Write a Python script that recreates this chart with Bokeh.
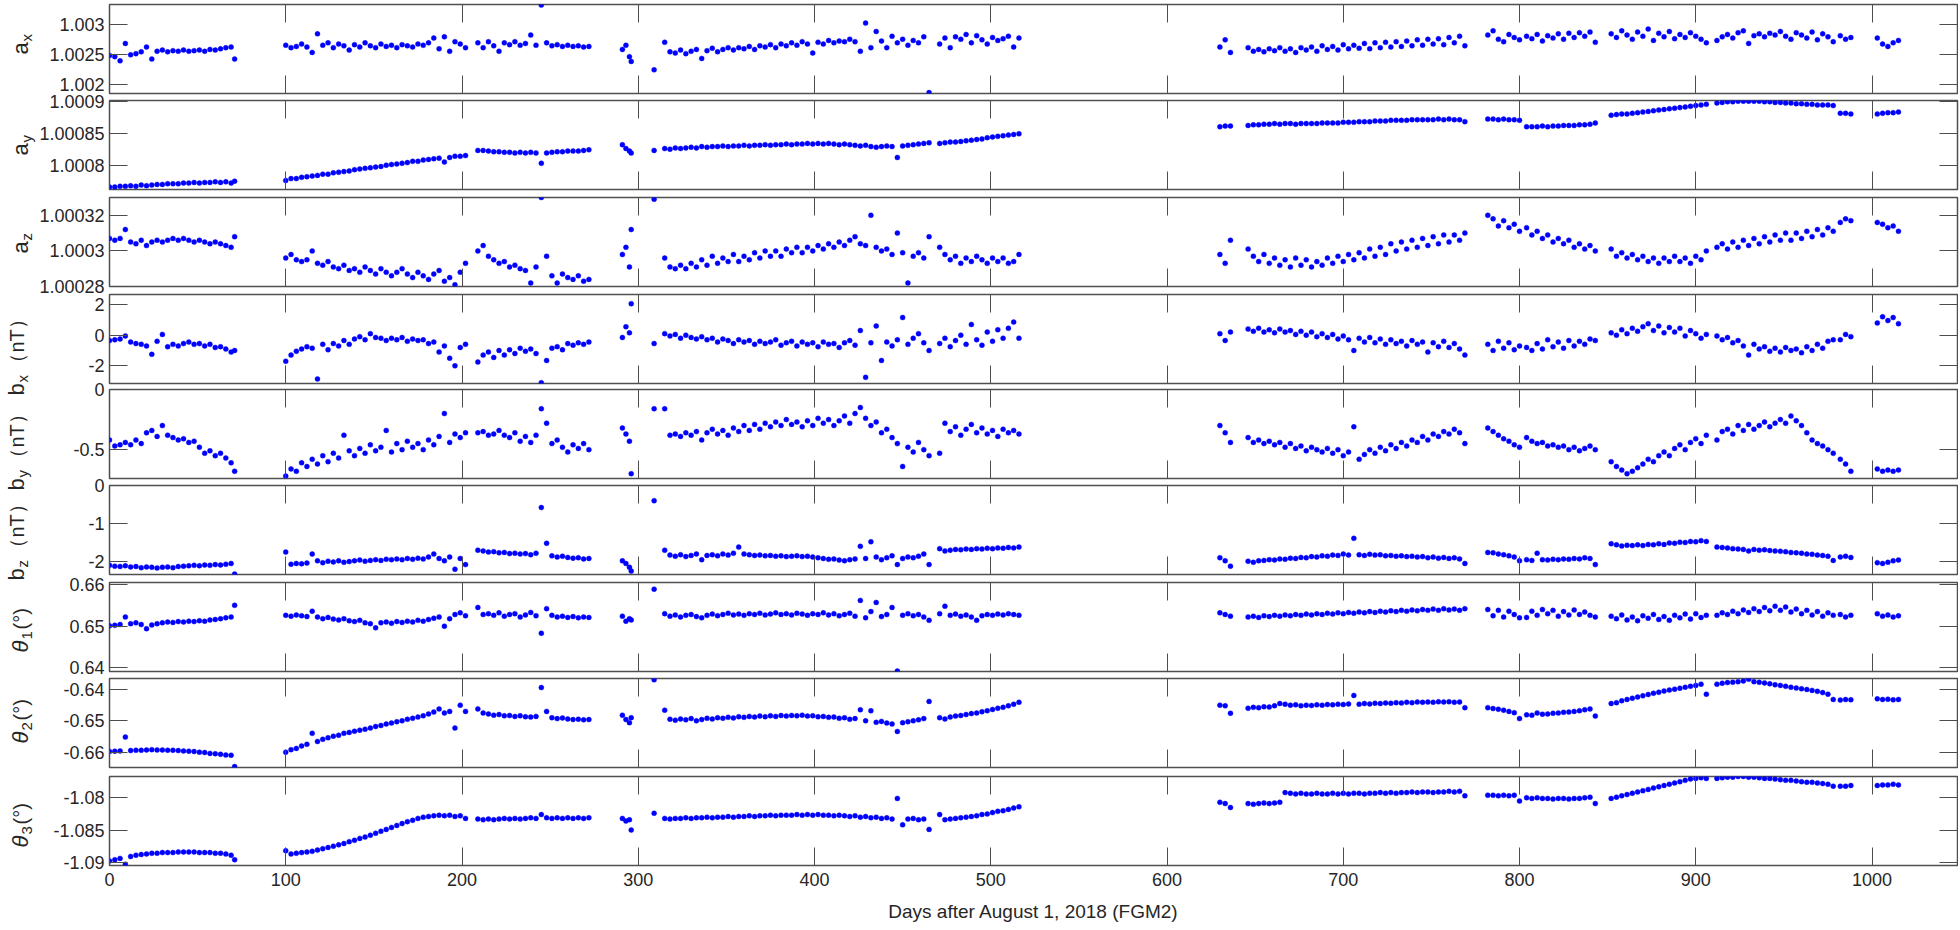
import math
from bokeh.plotting import figure
from bokeh.layouts import column, row
from bokeh.models import LinearAxis, Range1d, FixedTicker, CustomJSTickFormatter, ColumnDataSource
from bokeh.core.properties import value
from bokeh.embed import file_html
from bokeh.resources import INLINE

# ---------------- data ----------------
days = [
    0, 3, 6, 9, 12, 15, 18, 21, 24, 27, 30, 33, 36, 39, 42, 45, 48, 51, 54, 57, 60, 63, 66, 69, 71,
    100, 103, 106, 109, 112, 115, 118, 121, 124, 127, 130, 133, 136, 139, 142, 145, 148, 151, 154, 157,
    160, 163, 166, 169, 172, 175, 178, 181, 184, 187, 190, 193, 196, 199, 202,
    209, 212, 215, 218, 221, 224, 227, 230, 233, 236, 239, 242, 245, 248, 251, 254, 257, 260, 263, 266, 269, 272,
    291, 293, 295, 296,
    309,
    315, 318, 321, 324, 327, 330, 333, 336, 339, 342, 345, 348, 351, 354, 357, 360, 363, 366, 369, 372,
    375, 378, 381, 384, 387, 390, 393, 396, 399, 402, 405, 408, 411, 414, 417, 420, 423, 426, 429, 432,
    435, 438, 441, 444, 447, 450, 453, 456, 459, 462, 465,
    471, 474, 477, 480, 483, 486, 489, 492, 495, 498, 501, 504, 507, 510, 513, 516,
    630, 633, 636,
    646, 649, 652, 655, 658, 661, 664, 667, 670, 673, 676, 679, 682, 685, 688, 691, 694, 697, 700, 703,
    706, 709, 712, 715, 718, 721, 724, 727, 730, 733, 736, 739, 742, 745, 748, 751, 754, 757, 760, 763, 766, 769,
    782, 785, 788, 791, 794, 797, 800,
    804, 807, 810, 813, 816, 819, 822, 825, 828, 831, 834, 837, 840, 843,
    852, 855, 858, 861, 864, 867, 870, 873, 876, 879, 882, 885, 888, 891, 894, 897, 900, 903, 906,
    912, 915, 918, 921, 924, 927, 930, 933, 936, 939, 942, 945, 948, 951, 954, 957, 960, 963, 966, 969, 972, 975, 978,
    982, 985, 988,
    1003, 1006, 1009, 1012, 1015,
]

a_x = [
    1.00249, 1.00247, 1.00240, 1.00269, 1.00250, 1.00252, 1.00255, 1.00263, 1.00243, 1.00256, 1.00258, 1.00255, 1.00257,
    1.00256, 1.00258, 1.00256, 1.00257, 1.00258, 1.00256, 1.00259, 1.00258, 1.00260, 1.00262, 1.00263, 1.00243,
    1.00266, 1.00262, 1.00264, 1.00268, 1.00263, 1.00254, 1.00285, 1.00266, 1.00270, 1.00262, 1.00268, 1.00265,
    1.00258, 1.00267, 1.00263, 1.00270, 1.00265, 1.00262, 1.00268, 1.00264, 1.00266, 1.00262, 1.00267, 1.00265,
    1.00263, 1.00268, 1.00266, 1.00270, 1.00278, 1.00260, 1.00280, 1.00256, 1.00272, 1.00268, 1.00262,
    1.00270, 1.00262, 1.00272, 1.00265, 1.00256, 1.00270, 1.00267, 1.00272, 1.00266, 1.00269, 1.00283, 1.00266,
    1.00333, 1.00270, 1.00265, 1.00267, 1.00264, 1.00266, 1.00264, 1.00265, 1.00263, 1.00264,
    1.00259, 1.00266, 1.00247, 1.00239,
    1.00225,
    1.00271, 1.00255, 1.00253, 1.00258, 1.00252, 1.00256, 1.00259, 1.00244, 1.00257, 1.00261,
    1.00255, 1.00259, 1.00262, 1.00258, 1.00262, 1.00260, 1.00264, 1.00259, 1.00265, 1.00263,
    1.00267, 1.00262, 1.00268, 1.00265, 1.00270, 1.00266, 1.00272, 1.00268, 1.00253, 1.00271,
    1.00268, 1.00274, 1.00270, 1.00273, 1.00272, 1.00276, 1.00272, 1.00256, 1.00303, 1.00262,
    1.00289, 1.00273, 1.00262, 1.00281, 1.00270, 1.00276, 1.00266, 1.00274, 1.00270, 1.00280, 1.00187,
    1.00268, 1.00278, 1.00262, 1.00280, 1.00276, 1.00284, 1.00270, 1.00282, 1.00275, 1.00268, 1.00279, 1.00274,
    1.00277, 1.00281, 1.00263, 1.00278,
    1.00263, 1.00275, 1.00254,
    1.00262, 1.00256, 1.00259, 1.00255, 1.00260, 1.00257, 1.00262, 1.00256, 1.00260, 1.00254,
    1.00262, 1.00258, 1.00263, 1.00256, 1.00265, 1.00259, 1.00264, 1.00258, 1.00267, 1.00260,
    1.00266, 1.00261, 1.00269, 1.00260, 1.00270, 1.00262, 1.00271, 1.00263, 1.00272, 1.00264,
    1.00273, 1.00265, 1.00275, 1.00266, 1.00276, 1.00268, 1.00277, 1.00267, 1.00279, 1.00270, 1.00281, 1.00265,
    1.00283, 1.00290, 1.00276, 1.00272, 1.00284, 1.00279, 1.00275,
    1.00281, 1.00277, 1.00284, 1.00273, 1.00282, 1.00278, 1.00285, 1.00276, 1.00286, 1.00279, 1.00287, 1.00281,
    1.00288, 1.00271,
    1.00285, 1.00279, 1.00290, 1.00283, 1.00276, 1.00288, 1.00281, 1.00293, 1.00274, 1.00286, 1.00280, 1.00289,
    1.00277, 1.00284, 1.00279, 1.00287, 1.00281, 1.00276, 1.00270,
    1.00274, 1.00280, 1.00284, 1.00278, 1.00287, 1.00290, 1.00269, 1.00282, 1.00285, 1.00280, 1.00286, 1.00283,
    1.00289, 1.00281, 1.00276, 1.00287, 1.00283, 1.00278, 1.00288, 1.00275, 1.00285, 1.00280, 1.00272,
    1.00282, 1.00276, 1.00279,
    1.00278, 1.00268, 1.00264, 1.00270, 1.00274,
]

a_y = [
    1.000766, 1.000766, 1.000767, 1.000767, 1.000768, 1.000767, 1.000769, 1.000768, 1.000769, 1.000770, 1.000770,
    1.000771, 1.000771, 1.000771, 1.000772, 1.000772, 1.000773, 1.000772, 1.000773, 1.000773, 1.000774, 1.000773,
    1.000774, 1.000772, 1.000775,
    1.000776, 1.000779, 1.000779, 1.000781, 1.000782, 1.000783, 1.000784, 1.000786, 1.000786, 1.000788,
    1.000789, 1.000790, 1.000791, 1.000793, 1.000794, 1.000795, 1.000796, 1.000797, 1.000798, 1.000800,
    1.000801, 1.000802, 1.000803, 1.000804, 1.000806, 1.000806, 1.000808, 1.000809, 1.000810, 1.000811,
    1.000805, 1.000812, 1.000814, 1.000814, 1.000815,
    1.000823, 1.000823, 1.000822, 1.000821, 1.000821, 1.000820, 1.000820, 1.000819, 1.000820, 1.000819,
    1.000820, 1.000819, 1.000803, 1.000819, 1.000820, 1.000821, 1.000821, 1.000822, 1.000822, 1.000822,
    1.000823, 1.000824,
    1.000832, 1.000826, 1.000822, 1.000819,
    1.000823,
    1.000826, 1.000825, 1.000827, 1.000826, 1.000827, 1.000828, 1.000827, 1.000829, 1.000828, 1.000829,
    1.000829, 1.000830, 1.000829, 1.000830, 1.000830, 1.000831, 1.000830, 1.000831, 1.000831, 1.000832,
    1.000831, 1.000832, 1.000832, 1.000833, 1.000832, 1.000833, 1.000833, 1.000834, 1.000833, 1.000834,
    1.000833, 1.000834, 1.000833, 1.000832, 1.000833, 1.000832, 1.000831, 1.000830, 1.000831, 1.000829,
    1.000828, 1.000829, 1.000830, 1.000829, 1.000812, 1.000830, 1.000831, 1.000832, 1.000833, 1.000834, 1.000835,
    1.000834, 1.000835, 1.000836, 1.000836, 1.000837, 1.000838, 1.000839, 1.000840, 1.000841, 1.000843,
    1.000844, 1.000845, 1.000846, 1.000847, 1.000848, 1.000849,
    1.000860, 1.000861, 1.000861,
    1.000862, 1.000863, 1.000863, 1.000864, 1.000864, 1.000865, 1.000864, 1.000865, 1.000865, 1.000864,
    1.000865, 1.000865, 1.000865, 1.000865, 1.000866, 1.000866, 1.000866, 1.000866, 1.000867, 1.000867,
    1.000867, 1.000868, 1.000868, 1.000868, 1.000869, 1.000869, 1.000869, 1.000870, 1.000870, 1.000870,
    1.000870, 1.000871, 1.000871, 1.000871, 1.000871, 1.000871, 1.000872, 1.000871, 1.000872, 1.000871,
    1.000871, 1.000868,
    1.000872, 1.000872, 1.000871, 1.000872, 1.000871, 1.000871, 1.000870,
    1.000860, 1.000860, 1.000860, 1.000861, 1.000860, 1.000861, 1.000861, 1.000862, 1.000862, 1.000862,
    1.000863, 1.000863, 1.000864, 1.000866,
    1.000878, 1.000879, 1.000880, 1.000880, 1.000881, 1.000882, 1.000883, 1.000884, 1.000885, 1.000886,
    1.000887, 1.000888, 1.000889, 1.000890, 1.000891, 1.000892, 1.000893, 1.000894, 1.000895,
    1.000897, 1.000898, 1.000899, 1.000899, 1.000900, 1.000900, 1.000900, 1.000900, 1.000900, 1.000899,
    1.000899, 1.000898, 1.000898, 1.000897, 1.000897, 1.000896, 1.000896, 1.000895, 1.000895, 1.000894,
    1.000894, 1.000894, 1.000893,
    1.000881, 1.000881, 1.000880,
    1.000880, 1.000881, 1.000882, 1.000882, 1.000883,
]

a_z = [
    1.000307, 1.000306, 1.000307, 1.000312, 1.000305, 1.000304, 1.000306, 1.000303, 1.000305, 1.000306, 1.000305,
    1.000306, 1.000307, 1.000306, 1.000307, 1.000306, 1.000305, 1.000306, 1.000305, 1.000304, 1.000305, 1.000304,
    1.000303, 1.000302, 1.000308,
    1.000296, 1.000298, 1.000295, 1.000294, 1.000295, 1.000300, 1.000293, 1.000292, 1.000294, 1.000291,
    1.000290, 1.000292, 1.000289, 1.000290, 1.000288, 1.000291, 1.000289, 1.000287, 1.000290, 1.000288,
    1.000286, 1.000288, 1.000290, 1.000287, 1.000285, 1.000288, 1.000286, 1.000284, 1.000287, 1.000289,
    1.000283, 1.000285, 1.000281, 1.000288, 1.000293,
    1.000300, 1.000303, 1.000297, 1.000295, 1.000293, 1.000294, 1.000291, 1.000292, 1.000290, 1.000289,
    1.000282, 1.000291, 1.000330, 1.000297, 1.000286, 1.000282, 1.000287, 1.000285, 1.000284, 1.000286,
    1.000283, 1.000284,
    1.000298, 1.000302, 1.000291, 1.000312,
    1.000329,
    1.000296, 1.000291, 1.000290, 1.000292, 1.000290, 1.000293, 1.000291, 1.000295, 1.000292, 1.000297,
    1.000293, 1.000296, 1.000294, 1.000298, 1.000294, 1.000297, 1.000295, 1.000299, 1.000296, 1.000300,
    1.000297, 1.000300, 1.000297, 1.000301, 1.000299, 1.000302, 1.000299, 1.000302, 1.000300, 1.000303,
    1.000301, 1.000304, 1.000302, 1.000305, 1.000303, 1.000306, 1.000308, 1.000304, 1.000303, 1.000320,
    1.000302, 1.000300, 1.000301, 1.000298, 1.000310, 1.000299, 1.000282, 1.000297, 1.000299, 1.000296, 1.000308,
    1.000302, 1.000298, 1.000295, 1.000297, 1.000293, 1.000296, 1.000294, 1.000297, 1.000295, 1.000293,
    1.000296, 1.000294, 1.000296, 1.000293, 1.000294, 1.000298,
    1.000298, 1.000293, 1.000306,
    1.000301, 1.000297, 1.000294, 1.000298, 1.000293, 1.000296, 1.000292, 1.000295, 1.000291, 1.000296,
    1.000292, 1.000295, 1.000291, 1.000294, 1.000292, 1.000296, 1.000293, 1.000297, 1.000294, 1.000298,
    1.000295, 1.000299, 1.000296, 1.000301, 1.000297, 1.000302, 1.000298, 1.000304, 1.000300, 1.000305,
    1.000301, 1.000306, 1.000302, 1.000307, 1.000303, 1.000308, 1.000304, 1.000309, 1.000305, 1.000309,
    1.000306, 1.000310,
    1.000320, 1.000318, 1.000314, 1.000317, 1.000313, 1.000315, 1.000311,
    1.000313, 1.000309, 1.000311, 1.000307, 1.000309, 1.000305, 1.000307, 1.000304, 1.000306, 1.000302,
    1.000304, 1.000301, 1.000303, 1.000300,
    1.000301, 1.000297, 1.000299, 1.000296, 1.000298, 1.000295, 1.000297, 1.000294, 1.000296, 1.000293,
    1.000296, 1.000294, 1.000297, 1.000294, 1.000296, 1.000293, 1.000297, 1.000295, 1.000300,
    1.000302, 1.000304, 1.000301, 1.000305, 1.000302, 1.000306, 1.000303, 1.000307, 1.000304, 1.000308,
    1.000305, 1.000309, 1.000306, 1.000310, 1.000306, 1.000310, 1.000307, 1.000311, 1.000308, 1.000312,
    1.000309, 1.000313, 1.000311,
    1.000316, 1.000318, 1.000317,
    1.000316, 1.000315, 1.000313, 1.000314, 1.000311,
]

b_x = [
    -0.35, -0.30, -0.25, -0.05, -0.45, -0.55, -0.60, -0.70, -1.25, -0.40, 0.05, -0.75, -0.60, -0.70, -0.55, -0.45,
    -0.60, -0.55, -0.70, -0.60, -0.80, -0.75, -0.90, -1.10, -1.00,
    -1.70, -1.30, -1.05, -0.90, -0.75, -0.85, -2.85, -0.60, -0.95, -0.55,
    -0.70, -0.35, -0.60, -0.25, -0.10, -0.30, 0.10, -0.15, -0.20, -0.35,
    -0.20, -0.30, -0.15, -0.40, -0.25, -0.35, -0.30, -0.55, -0.45, -1.10,
    -0.70, -1.50, -2.00, -0.80, -0.60,
    -1.75, -1.30, -1.10, -1.45, -1.00, -1.30, -0.95, -1.20, -0.85, -1.05,
    -0.90, -1.20, -3.10, -1.65, -0.85, -0.75, -0.95, -0.55, -0.65, -0.50, -0.60, -0.45,
    -0.15, 0.55, 0.15, 2.05,
    -0.55,
    0.10, -0.05, 0.05, -0.20, 0.00, -0.15, -0.25, -0.10, -0.30, -0.20,
    -0.45, -0.25, -0.35, -0.55, -0.30, -0.45, -0.35, -0.60, -0.40, -0.55,
    -0.45, -0.30, -0.65, -0.50, -0.40, -0.70, -0.45, -0.60, -0.50, -0.75,
    -0.45, -0.60, -0.55, -0.80, -0.50, -0.35, -0.65, 0.30, -2.75, -0.50,
    0.60, -1.65, -0.45, -0.70, -0.30, 1.15, -0.60, -0.20, 0.10, -0.50, -1.00,
    -0.55, -0.20, -0.75, -0.35, 0.00, -0.60, 0.70, -0.30, -0.65, 0.20, -0.40, 0.35, -0.20, 0.45, 0.85, -0.20,
    0.10, -0.35, 0.20,
    0.40, 0.25, 0.45, 0.20, 0.35, 0.15, 0.40, 0.20, 0.30, 0.05,
    0.25, 0.00, 0.20, -0.10, 0.10, -0.15, 0.05, -0.25, -0.05, -0.30,
    -1.00, -0.20, -0.45, -0.15, -0.50, -0.25, -0.60, -0.30, -0.55, -0.40,
    -0.70, -0.35, -0.60, -0.45, -1.10, -0.50, -0.75, -0.40, -0.80, -0.55, -0.90, -1.30,
    -0.60, -1.00, -0.40, -0.85, -0.50, -0.95, -0.70,
    -0.80, -1.00, -0.55, -0.90, -0.30, -0.75, -0.45, -0.85, -0.35, -0.70, -0.40, -0.60, -0.25, -0.35,
    0.15, 0.00, 0.35, 0.10, 0.45, 0.25, 0.55, 0.75, 0.30, 0.60, 0.15, 0.50, 0.20, 0.45, -0.05, 0.30, 0.10, -0.20, 0.05,
    -0.05, -0.30, -0.15, -0.50, -0.35, -0.70, -1.30, -0.60, -0.90, -0.75,
    -1.05, -0.85, -1.10, -0.80, -1.00, -0.90, -1.15, -0.75, -1.00, -0.60, -0.85, -0.40, -0.30,
    -0.30, 0.05, -0.10,
    0.80, 1.20, 0.95, 1.15, 0.75,
]

b_y = [
    -0.42, -0.47, -0.46, -0.44, -0.46, -0.42, -0.45, -0.36, -0.34, -0.39, -0.30, -0.38, -0.40, -0.42, -0.41, -0.44,
    -0.43, -0.48, -0.53, -0.51, -0.55, -0.53, -0.57, -0.61, -0.68,
    -0.72, -0.66, -0.68, -0.61, -0.64, -0.58, -0.62, -0.55, -0.60, -0.53,
    -0.57, -0.38, -0.51, -0.55, -0.49, -0.53, -0.46, -0.51, -0.48, -0.34,
    -0.52, -0.45, -0.50, -0.43, -0.48, -0.45, -0.50, -0.42, -0.46, -0.39,
    -0.20, -0.44, -0.37, -0.40, -0.36,
    -0.36, -0.35, -0.38, -0.37, -0.34, -0.38, -0.40, -0.36, -0.43, -0.39,
    -0.44, -0.38, -0.16, -0.28, -0.45, -0.42, -0.48, -0.52, -0.46, -0.49, -0.45, -0.50,
    -0.32, -0.37, -0.43, -0.70,
    -0.16,
    -0.16, -0.38, -0.37, -0.39, -0.36, -0.38, -0.35, -0.42, -0.36, -0.33,
    -0.37, -0.34, -0.38, -0.32, -0.35, -0.30, -0.34, -0.29, -0.33, -0.28,
    -0.31, -0.27, -0.30, -0.25, -0.29, -0.27, -0.31, -0.26, -0.30, -0.24,
    -0.28, -0.25, -0.30, -0.26, -0.22, -0.28, -0.20, -0.15, -0.24, -0.30,
    -0.27, -0.36, -0.33, -0.40, -0.45, -0.64, -0.48, -0.52, -0.44, -0.50, -0.55,
    -0.53, -0.28, -0.35, -0.31, -0.38, -0.33, -0.29, -0.36, -0.32, -0.37, -0.34, -0.39, -0.33, -0.36, -0.34, -0.37,
    -0.30, -0.36, -0.44,
    -0.40, -0.44, -0.42, -0.45, -0.43, -0.46, -0.44, -0.48, -0.45, -0.49,
    -0.47, -0.51, -0.48, -0.50, -0.52, -0.49, -0.53, -0.50, -0.55, -0.52,
    -0.31, -0.58, -0.54, -0.50, -0.53, -0.48, -0.51, -0.46, -0.49, -0.44,
    -0.47, -0.42, -0.44, -0.39, -0.42, -0.37, -0.39, -0.35, -0.37, -0.33, -0.36, -0.45,
    -0.32, -0.35, -0.38, -0.41, -0.43, -0.46, -0.48,
    -0.40, -0.43, -0.45, -0.44, -0.47, -0.46, -0.48, -0.47, -0.50, -0.48, -0.51, -0.49, -0.47, -0.50,
    -0.60, -0.64, -0.67, -0.70, -0.68, -0.65, -0.62, -0.58, -0.60, -0.55, -0.52, -0.55, -0.49, -0.46, -0.50,
    -0.44, -0.41, -0.45, -0.38,
    -0.42, -0.35, -0.33, -0.37, -0.30, -0.34, -0.29, -0.33, -0.30, -0.27,
    -0.31, -0.28, -0.25, -0.28, -0.22, -0.26, -0.30, -0.36, -0.42, -0.45, -0.47, -0.50, -0.53,
    -0.58, -0.62, -0.68,
    -0.66, -0.68, -0.67, -0.68, -0.67,
]

b_z = [
    -2.10, -2.12, -2.13, -2.11, -2.14, -2.13, -2.16, -2.14, -2.15, -2.17, -2.15, -2.14, -2.16, -2.13, -2.12, -2.11,
    -2.10, -2.11, -2.09, -2.10, -2.08, -2.09, -2.07, -2.05, -2.33,
    -1.75, -2.07, -2.05, -2.06, -2.04, -1.80, -1.98, -2.03, -1.99, -2.01,
    -1.98, -2.02, -2.00, -1.98, -1.96, -1.99, -1.97, -1.95, -1.97, -1.94,
    -1.95, -1.93, -1.95, -1.92, -1.94, -1.91, -1.93, -1.88, -1.80, -1.92,
    -1.98, -1.88, -2.20, -1.92, -2.08,
    -1.70, -1.72, -1.75, -1.74, -1.77, -1.76, -1.79, -1.78, -1.80, -1.79,
    -1.82, -1.78, -0.58, -1.52, -1.85, -1.88, -1.86, -1.89, -1.91, -1.90, -1.93, -1.92,
    -1.98, -2.05, -2.15, -2.25,
    -0.40,
    -1.70, -1.83, -1.86, -1.82, -1.87, -1.84, -1.80, -1.95, -1.84, -1.82,
    -1.85, -1.80, -1.83, -1.78, -1.62, -1.80, -1.82, -1.84, -1.83, -1.85,
    -1.84, -1.86, -1.85, -1.87, -1.86, -1.85, -1.87, -1.86, -1.88, -1.90,
    -1.92, -1.94, -1.93, -1.96, -1.98, -1.95, -1.93, -1.60, -1.92, -1.48,
    -1.88, -1.95, -1.90, -1.85, -2.08, -1.92, -1.88, -1.90, -1.86, -1.80, -2.08,
    -1.66, -1.72, -1.70, -1.68, -1.69, -1.67, -1.68, -1.66, -1.67, -1.65, -1.66, -1.64, -1.65, -1.63, -1.64, -1.62,
    -1.90, -1.98, -2.12,
    -1.99, -2.02, -1.98, -1.97, -1.95, -1.96, -1.93, -1.94, -1.91, -1.92,
    -1.89, -1.90, -1.87, -1.88, -1.85, -1.86, -1.83, -1.84, -1.80, -1.83,
    -1.39, -1.82, -1.84, -1.81, -1.83, -1.82, -1.85, -1.84, -1.86, -1.85,
    -1.87, -1.86, -1.88, -1.87, -1.90, -1.88, -1.91, -1.89, -1.92, -1.90, -1.93, -2.05,
    -1.76, -1.77, -1.80, -1.82, -1.85, -1.88, -1.98,
    -1.95, -1.97, -1.78, -1.95, -1.96, -1.94, -1.95, -1.93, -1.94, -1.92, -1.93, -1.90, -1.92, -2.08,
    -1.53, -1.56, -1.59, -1.57, -1.58, -1.56, -1.58, -1.55, -1.56, -1.53, -1.55, -1.51, -1.52, -1.49, -1.50,
    -1.47, -1.48, -1.45, -1.47,
    -1.62, -1.63, -1.64, -1.66, -1.67, -1.68, -1.72, -1.68, -1.70, -1.69,
    -1.71, -1.72, -1.73, -1.74, -1.76, -1.77, -1.78, -1.80, -1.81, -1.83, -1.84, -1.86, -1.97,
    -1.88, -1.86, -1.89,
    -2.03, -2.05, -2.02, -1.98, -1.96,
]

theta_1 = [
    0.6501, 0.6502, 0.6504, 0.6522, 0.6506, 0.6508, 0.6504, 0.6494, 0.6503, 0.6506, 0.6508, 0.6510, 0.6509,
    0.6511, 0.6510, 0.6512, 0.6511, 0.6513, 0.6512, 0.6515, 0.6516, 0.6518, 0.6520, 0.6522, 0.6550,
    0.6526, 0.6524, 0.6527, 0.6525, 0.6523, 0.6536, 0.6522, 0.6518, 0.6521, 0.6517,
    0.6515, 0.6518, 0.6513, 0.6511, 0.6514, 0.6508, 0.6506, 0.6496, 0.6508, 0.6510,
    0.6507, 0.6511, 0.6509, 0.6512, 0.6510, 0.6514, 0.6512, 0.6516, 0.6519, 0.6522,
    0.6500, 0.6518, 0.6528, 0.6532, 0.6525,
    0.6545, 0.6528, 0.6530, 0.6526, 0.6532, 0.6524, 0.6528, 0.6530, 0.6522, 0.6527,
    0.6533, 0.6525, 0.6483, 0.6542, 0.6526, 0.6522, 0.6524, 0.6521, 0.6523, 0.6520, 0.6522, 0.6521,
    0.6524, 0.6512, 0.6518, 0.6515,
    0.6589,
    0.6530, 0.6524, 0.6527, 0.6522, 0.6526, 0.6528, 0.6523, 0.6520, 0.6526, 0.6529,
    0.6525, 0.6528, 0.6531, 0.6527, 0.6529, 0.6526, 0.6530, 0.6528, 0.6531, 0.6527,
    0.6529, 0.6532, 0.6528, 0.6530, 0.6527, 0.6531, 0.6529, 0.6526, 0.6530, 0.6528,
    0.6532, 0.6527, 0.6530, 0.6525, 0.6528, 0.6531, 0.6524, 0.6562, 0.6520, 0.6535,
    0.6557, 0.6523, 0.6528, 0.6545, 0.6392, 0.6526, 0.6530, 0.6525, 0.6528, 0.6522, 0.6514,
    0.6530, 0.6548, 0.6526, 0.6529, 0.6524, 0.6527, 0.6522, 0.6514, 0.6525, 0.6528, 0.6526, 0.6529, 0.6527,
    0.6530, 0.6528, 0.6526,
    0.6532, 0.6528, 0.6524,
    0.6522, 0.6524, 0.6521, 0.6525, 0.6523, 0.6526, 0.6524, 0.6527, 0.6525, 0.6528,
    0.6526, 0.6529, 0.6527, 0.6530, 0.6528, 0.6531, 0.6529, 0.6532, 0.6530, 0.6533,
    0.6531, 0.6534, 0.6532, 0.6535, 0.6533, 0.6536, 0.6534, 0.6537, 0.6535, 0.6538,
    0.6536, 0.6539, 0.6537, 0.6540, 0.6538, 0.6541, 0.6538, 0.6542, 0.6539, 0.6541, 0.6538, 0.6542,
    0.6540, 0.6525, 0.6538, 0.6522, 0.6536, 0.6528, 0.6520,
    0.6521, 0.6536, 0.6526, 0.6540, 0.6530, 0.6538, 0.6524, 0.6535, 0.6527, 0.6539, 0.6528, 0.6534, 0.6526, 0.6522,
    0.6524, 0.6518, 0.6527, 0.6515, 0.6522, 0.6513, 0.6525, 0.6519, 0.6528, 0.6516, 0.6523, 0.6514, 0.6526,
    0.6520, 0.6529, 0.6517, 0.6530, 0.6521, 0.6526,
    0.6526, 0.6532, 0.6528, 0.6536, 0.6530, 0.6539, 0.6533, 0.6542, 0.6535, 0.6545,
    0.6537, 0.6548, 0.6538, 0.6546, 0.6534, 0.6541, 0.6530, 0.6538, 0.6527, 0.6535, 0.6524, 0.6532, 0.6526,
    0.6528, 0.6522, 0.6526,
    0.6530, 0.6524, 0.6527, 0.6522, 0.6525,
]

theta_2 = [
    -0.6598, -0.6597, -0.6596, -0.6552, -0.6595, -0.6594, -0.6594, -0.6593, -0.6592, -0.6593, -0.6593, -0.6594,
    -0.6594, -0.6595, -0.6596, -0.6597, -0.6598, -0.6600, -0.6601, -0.6604, -0.6605, -0.6607, -0.6609, -0.6610,
    -0.6646,
    -0.6600, -0.6592, -0.6588, -0.6580, -0.6575, -0.6540, -0.6566, -0.6559, -0.6554, -0.6549,
    -0.6546, -0.6540, -0.6537, -0.6533, -0.6530, -0.6527, -0.6523, -0.6518, -0.6515, -0.6510,
    -0.6507, -0.6503, -0.6500, -0.6495, -0.6492, -0.6488, -0.6484, -0.6478, -0.6472, -0.6462,
    -0.6475, -0.6470, -0.6523, -0.6450, -0.6470,
    -0.6462, -0.6475, -0.6478, -0.6482, -0.6480, -0.6484, -0.6483, -0.6486, -0.6484, -0.6487,
    -0.6488, -0.6486, -0.6394, -0.6470, -0.6490, -0.6493, -0.6491, -0.6494, -0.6496, -0.6495, -0.6497, -0.6496,
    -0.6482, -0.6496, -0.6506, -0.6490,
    -0.6369,
    -0.6466, -0.6495, -0.6498, -0.6494, -0.6497, -0.6493, -0.6500, -0.6496, -0.6492, -0.6494,
    -0.6490, -0.6492, -0.6489, -0.6491, -0.6487, -0.6489, -0.6486, -0.6488, -0.6485, -0.6487,
    -0.6484, -0.6486, -0.6483, -0.6485, -0.6483, -0.6484, -0.6482, -0.6485, -0.6484, -0.6487,
    -0.6486, -0.6489, -0.6488, -0.6492, -0.6490, -0.6495, -0.6493, -0.6465, -0.6500, -0.6468,
    -0.6505, -0.6502, -0.6507, -0.6510, -0.6534, -0.6506, -0.6503, -0.6500, -0.6497, -0.6493, -0.6438,
    -0.6490, -0.6494, -0.6488, -0.6485, -0.6483, -0.6480, -0.6477, -0.6475, -0.6471, -0.6468, -0.6464, -0.6460,
    -0.6457, -0.6452, -0.6447, -0.6441,
    -0.6450, -0.6452, -0.6476,
    -0.6460, -0.6457, -0.6458, -0.6455, -0.6456, -0.6452, -0.6445, -0.6447, -0.6450, -0.6449,
    -0.6452, -0.6450, -0.6451, -0.6449, -0.6450, -0.6448, -0.6449, -0.6447, -0.6448, -0.6446,
    -0.6419, -0.6447, -0.6445, -0.6446, -0.6444, -0.6445, -0.6443, -0.6444, -0.6442, -0.6443,
    -0.6441, -0.6442, -0.6440, -0.6441, -0.6440, -0.6441, -0.6439, -0.6440, -0.6439, -0.6441, -0.6440, -0.6458,
    -0.6458, -0.6461, -0.6463, -0.6466, -0.6470, -0.6474, -0.6493,
    -0.6481, -0.6482, -0.6475, -0.6479, -0.6478, -0.6476, -0.6475, -0.6473, -0.6472, -0.6470, -0.6468, -0.6465,
    -0.6462, -0.6485,
    -0.6445, -0.6442, -0.6436, -0.6432, -0.6428, -0.6424, -0.6420, -0.6416, -0.6412, -0.6409, -0.6405, -0.6402,
    -0.6399, -0.6396, -0.6393, -0.6390, -0.6387, -0.6383, -0.6415,
    -0.6383, -0.6380, -0.6378, -0.6377, -0.6375, -0.6373, -0.6367, -0.6375, -0.6377, -0.6379,
    -0.6382, -0.6385, -0.6387, -0.6390, -0.6393, -0.6395, -0.6398, -0.6400, -0.6403, -0.6406, -0.6410, -0.6415,
    -0.6432,
    -0.6434, -0.6432, -0.6433,
    -0.6430, -0.6432, -0.6431, -0.6433, -0.6432,
]

theta_3 = [
    -1.0898, -1.0896, -1.0894, -1.0903, -1.0891, -1.0889, -1.0888, -1.0887, -1.0886, -1.0886, -1.0885, -1.0885,
    -1.0885, -1.0884, -1.0884, -1.0884, -1.0884, -1.0885, -1.0885, -1.0885, -1.0886, -1.0886, -1.0887, -1.0889,
    -1.0896,
    -1.0882, -1.0887, -1.0886, -1.0885, -1.0884, -1.0883, -1.0881, -1.0879, -1.0877, -1.0875,
    -1.0873, -1.0871, -1.0868, -1.0866, -1.0863, -1.0861, -1.0858, -1.0855, -1.0852, -1.0849,
    -1.0846, -1.0843, -1.0840, -1.0837, -1.0835, -1.0832, -1.0830, -1.0829, -1.0828, -1.0827,
    -1.0828, -1.0827, -1.0829, -1.0828, -1.0832,
    -1.0833, -1.0834, -1.0833, -1.0834, -1.0833, -1.0832, -1.0833, -1.0832, -1.0833, -1.0832,
    -1.0831, -1.0832, -1.0826, -1.0831, -1.0832, -1.0831, -1.0832, -1.0831, -1.0832, -1.0831, -1.0832, -1.0831,
    -1.0832, -1.0836, -1.0834, -1.0850,
    -1.0824,
    -1.0832, -1.0833, -1.0832, -1.0832, -1.0831, -1.0832, -1.0831, -1.0831, -1.0830, -1.0831,
    -1.0830, -1.0830, -1.0829, -1.0830, -1.0829, -1.0829, -1.0828, -1.0829, -1.0828, -1.0828,
    -1.0827, -1.0828, -1.0827, -1.0827, -1.0827, -1.0826, -1.0827, -1.0826, -1.0827, -1.0826,
    -1.0827, -1.0827, -1.0828, -1.0827, -1.0828, -1.0829, -1.0828, -1.0830, -1.0829, -1.0831,
    -1.0830, -1.0832, -1.0831, -1.0833, -1.0801, -1.0842, -1.0833, -1.0832, -1.0834, -1.0833, -1.0849,
    -1.0826, -1.0834, -1.0833, -1.0832, -1.0831, -1.0830, -1.0829, -1.0828, -1.0826, -1.0825, -1.0823, -1.0821,
    -1.0820, -1.0818, -1.0816, -1.0814,
    -1.0807, -1.0809, -1.0815,
    -1.0809, -1.0810, -1.0809, -1.0808, -1.0809, -1.0808, -1.0807, -1.0792, -1.0793, -1.0794,
    -1.0793, -1.0794, -1.0794, -1.0793, -1.0794, -1.0794, -1.0793, -1.0794, -1.0793, -1.0794,
    -1.0793, -1.0793, -1.0794, -1.0793, -1.0793, -1.0792, -1.0793, -1.0792, -1.0793, -1.0792,
    -1.0792, -1.0791, -1.0792, -1.0791, -1.0791, -1.0792, -1.0791, -1.0791, -1.0790, -1.0791, -1.0790, -1.0797,
    -1.0796, -1.0796, -1.0797, -1.0796, -1.0797, -1.0796, -1.0805,
    -1.0800, -1.0801, -1.0800, -1.0801, -1.0801, -1.0802, -1.0801, -1.0801, -1.0802, -1.0801, -1.0801, -1.0800,
    -1.0799, -1.0809,
    -1.0801, -1.0799, -1.0797, -1.0795, -1.0793, -1.0791, -1.0789, -1.0787, -1.0785, -1.0783, -1.0781, -1.0779,
    -1.0777, -1.0775, -1.0773, -1.0771, -1.0770, -1.0769, -1.0770,
    -1.0770, -1.0769, -1.0768, -1.0768, -1.0767, -1.0767, -1.0768, -1.0768, -1.0769, -1.0770,
    -1.0770, -1.0771, -1.0772, -1.0773, -1.0773, -1.0774, -1.0775, -1.0776, -1.0776, -1.0777, -1.0778, -1.0779,
    -1.0782,
    -1.0782, -1.0782, -1.0781,
    -1.0781, -1.0780, -1.0780, -1.0779, -1.0780,
]

x_ticks = [0, 100, 200, 300, 400, 500, 600, 700, 800, 900, 1000]
y_ticks = [
    [1.002, 1.0025, 1.003],
    [1.0008, 1.00085, 1.0009],
    [1.00028, 1.0003, 1.00032],
    [-2, 0, 2],
    [-0.5, 0],
    [-2, -1, 0],
    [0.64, 0.65, 0.66],
    [-0.66, -0.65, -0.64],
    [-1.09, -1.085, -1.08],
]
y_limits = [
    (1.001855, 1.00334),
    (1.000762, 1.000901),
    (1.00028, 1.00033),
    (-3.15, 2.65),
    (-0.74, 0.0),
    (-2.34, 0.0),
    (0.6391, 0.6605),
    (-0.6649, -0.6365),
    (-1.0905, -1.0767),
]
# y-axis label pieces: main letter, subscript, unit
label_main = ["a", "a", "a", "b", "b", "b", "\u03b8", "\u03b8", "\u03b8"]
label_sub = ["x", "y", "z", "x", "y", "z", "1", "2", "3"]
label_unit = ["", "", "", "\uff08nT\uff09", "\uff08nT\uff09", "\uff08nT\uff09", "(\u00b0)", "(\u00b0)", "(\u00b0)"]
x_title = "Days after August 1, 2018 (FGM2)"
series = [a_x, a_y, a_z, b_x, b_y, b_z, theta_1, theta_2, theta_3]

for i, s in enumerate(series):
    if len(s) != len(days):
        raise SystemExit(f"series {i} has {len(s)} values, days has {len(days)}")

# ---------------- layout / style ----------------
FONT = "Liberation Sans"
TICK_COL = "#4d4d4d"
TEXT_COL = "#262626"
FRAME_TOPS = [4, 100, 197, 294, 389, 485, 582, 678, 776]
LABEL_START = [50, 55, 56, 101, 101, 95, 70, 65, 71]  # px below frame top where each y label begins
LABEL_X = [20, 20, 20, 16, 16, 16, 20, 20, 20]        # baseline x of each y label in the label strip
FH = 89
FW = 1848
X_MAX = 1048.5
LAB_W = 36          # strip on the far left that carries the rotated y labels
LEFT = 107 - LAB_W  # border left of each frame (tick labels)
TOTAL_H = 924
BT = 14
BB = 14
BB_LAST = 59

fmt_code = "return String(+tick.toPrecision(10));"


def style_axis(ax, ticks, show):
    ax.ticker = FixedTicker(ticks=ticks)
    ax.major_tick_in = 18
    ax.major_tick_out = 0
    ax.minor_tick_line_color = None
    ax.axis_line_color = None
    ax.major_tick_line_color = TICK_COL
    ax.major_tick_line_width = 1
    ax.formatter = CustomJSTickFormatter(code=fmt_code)
    ax.major_label_text_font = FONT
    if show:
        ax.major_label_text_color = TEXT_COL
        ax.major_label_text_font_size = "18px"
        ax.major_label_standoff = 5
    else:
        ax.major_label_text_color = None
        ax.major_label_text_font_size = "0px"
        ax.major_label_standoff = 0


figs = []
n = len(series)
for k in range(n):
    last = k == n - 1
    bb = BB_LAST if last else BB
    p = figure(frame_width=FW, frame_height=FH,
               x_range=Range1d(0, X_MAX), y_range=Range1d(*y_limits[k]),
               output_backend="svg", toolbar_location=None,
               min_border_left=LEFT, min_border_right=3, min_border_top=BT, min_border_bottom=bb)
    p.grid.visible = False
    p.border_fill_color = None
    p.background_fill_color = None
    p.outline_line_color = "#505050"
    p.outline_line_width = 1.5

    bottom_ax = p.below[0]
    left_ax = p.left[0]
    style_axis(bottom_ax, x_ticks, last)
    style_axis(left_ax, y_ticks[k], True)
    top_ax = LinearAxis()
    style_axis(top_ax, x_ticks, False)
    p.add_layout(top_ax, "above")
    right_ax = LinearAxis()
    style_axis(right_ax, y_ticks[k], False)
    p.add_layout(right_ax, "right")

    if last:
        bottom_ax.major_label_standoff = 7
        bottom_ax.axis_label = x_title
        bottom_ax.axis_label_text_font = FONT
        bottom_ax.axis_label_text_font_size = "19px"
        bottom_ax.axis_label_text_font_style = "normal"
        bottom_ax.axis_label_text_color = TEXT_COL
        bottom_ax.axis_label_standoff = 12

    src = ColumnDataSource(dict(day=days, val=series[k]))
    p.scatter("day", "val", source=src, size=5, fill_color="#0000ff", line_color="#0000ff", line_width=0.4)

    top_css = FRAME_TOPS[k] - BT
    if k == 0:
        m = top_css
    else:
        m = top_css - (FRAME_TOPS[k - 1] + FH + BB)
    p.margin = (m, 0, 0, 0)
    figs.append(p)

# ---------------- strip with the rotated y-axis labels ----------------
lab = figure(frame_width=LAB_W, frame_height=TOTAL_H, x_range=Range1d(0, LAB_W), y_range=Range1d(TOTAL_H, 0),
             output_backend="svg", toolbar_location=None, x_axis_location=None, y_axis_location=None,
             min_border=0, outline_line_color=None)
lab.grid.visible = False
lab.border_fill_color = None
lab.background_fill_color = None

starts = [FRAME_TOPS[k] + LABEL_START[k] for k in range(n)]
main_src = ColumnDataSource(dict(
    x=LABEL_X, y=starts, t=label_main,
    st=["italic" if m == "\u03b8" else "normal" for m in label_main]))
sub_src = ColumnDataSource(dict(x=[lx + 6 for lx in LABEL_X], y=[s - 13 for s in starts], t=label_sub))
unit_idx = [k for k in range(n) if label_unit[k]]
unit_src = ColumnDataSource(dict(x=[LABEL_X[k] for k in unit_idx], y=[starts[k] - 23 for k in unit_idx],
                                 t=[label_unit[k] for k in unit_idx]))

lab.text("x", "y", text="t", source=main_src, angle=math.pi / 2, text_font=value(FONT),
         text_font_size=value("22px"), text_font_style="st", text_align="left",
         text_baseline="alphabetic", text_color=TEXT_COL)
lab.text("x", "y", text="t", source=sub_src, angle=math.pi / 2, text_font=value(FONT),
         text_font_size=value("15px"), text_align="left", text_baseline="alphabetic", text_color=TEXT_COL)
lab.text("x", "y", text="t", source=unit_src, angle=math.pi / 2, text_font=value(FONT),
         text_font_size=value("20px"), text_align="left", text_baseline="alphabetic", text_color=TEXT_COL)

layout = row(lab, column(*figs, spacing=0), spacing=0)
open("out.html", "w").write(file_html(layout, INLINE, title="FGM2 calibration parameters"))
